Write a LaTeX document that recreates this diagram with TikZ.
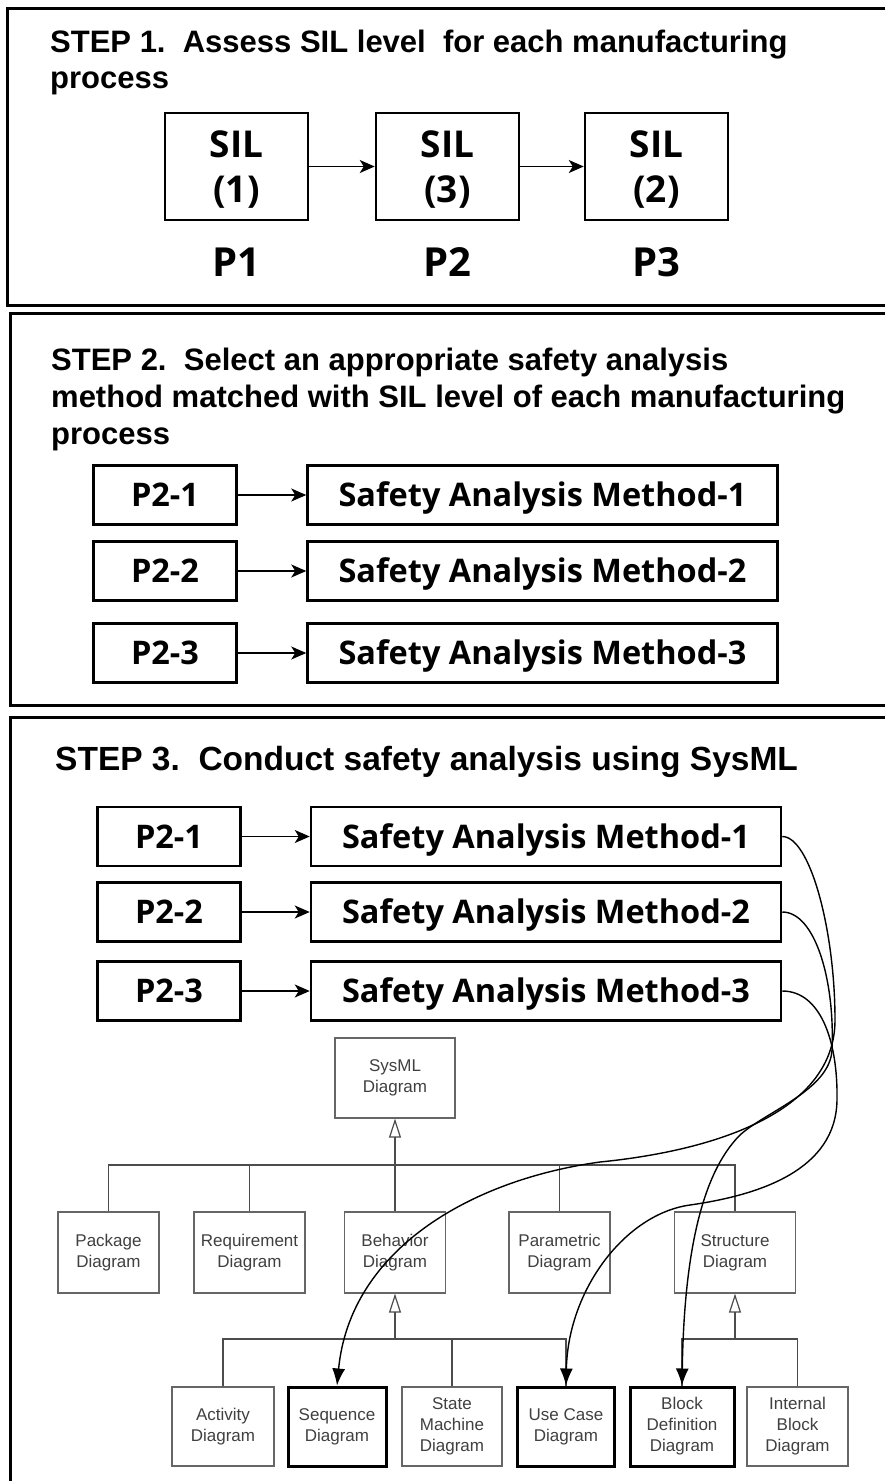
\documentclass[tikz,border=0pt]{standalone}
\usepackage{fontspec}
\setmainfont{Liberation Sans}
\newfontfamily\boxfont{Open Sans}
\usetikzlibrary{arrows.meta}
\begin{document}
\begin{tikzpicture}[x=1pt,y=-1pt,
  panel/.style={draw=black,line width=3pt},
  title/.style={anchor=base west,inner sep=0pt,font=\fontsize{31}{36}\selectfont\bfseries},
  titlebig/.style={anchor=base west,inner sep=0pt,font=\fontsize{33.5}{38}\selectfont\bfseries},
  silbox/.style={draw,line width=2.5pt,minimum width=143pt,minimum height=107pt,inner sep=0pt,align=center,text depth=0pt,font=\boxfont\bfseries\fontsize{37}{45}\selectfont},
  plabel/.style={inner sep=0pt,font=\boxfont\bfseries\fontsize{40}{46}\selectfont},
  pbox/.style={draw,line width=2.5pt,minimum width=143pt,minimum height=59pt,inner sep=0pt,text height=23pt,text depth=0pt,font=\boxfont\bfseries\fontsize{32.5}{38}\selectfont},
  mbox/.style={pbox,minimum width=470pt},
  smallarrow/.style={line width=1.4pt,-{Stealth[length=15pt,width=13pt,inset=4pt]}},
  sys/.style={draw=black!60,line width=1.2pt,inner sep=0pt,align=center,font=\fontsize{17}{21}\selectfont,text=black!75},
  sysbold/.style={sys,draw=black,line width=3pt},
  gl/.style={draw=black!70,line width=1.2pt},
  gen/.style={gl,-{Triangle[open,length=19pt,width=12pt]}},
  curve/.style={line width=1.4pt,-{Latex[length=17pt,width=13pt]}}
]
\useasboundingbox (0,0) rectangle (885,1481);
\fill[white] (0,0) rectangle (885,1481);

% ---------- STEP 1 ----------
\draw[panel] (7,8) rectangle (900,305);
\node[title] (t1a) at (50,52) {STEP 1.\ \ Assess SIL level\ \ for each manufacturing};
\node[title] (t1b) at (50,88) {process};
\node[silbox] (s1) at (236.5,166.5) {SIL\\(1)};
\node[silbox] (s2) at (447.5,166.5) {SIL\\(3)};
\node[silbox] (s3) at (656.5,166.5) {SIL\\(2)};
\draw[smallarrow] (s1) -- (s2);
\draw[smallarrow] (s2) -- (s3);
\node[plabel] (lp1) at (236.5,262) {P1};
\node[plabel] (lp2) at (447.5,262) {P2};
\node[plabel] (lp3) at (656.5,262) {P3};

% ---------- STEP 2 ----------
\draw[panel] (10,313) rectangle (900,705);
\node[title] (t2a) at (51,370) {STEP 2.\ \ Select an appropriate safety analysis};
\node[title] (t2b) at (51,407) {method matched with SIL level of each manufacturing};
\node[title] (t2c) at (51,444) {process};
\node[pbox] (p21) at (165,495) {P2-1};
\node[mbox] (m21) at (542.5,495) {Safety Analysis Method-1};
\node[pbox] (p22) at (165,571) {P2-2};
\node[mbox] (m22) at (542.5,571) {Safety Analysis Method-2};
\node[pbox] (p23) at (165,653) {P2-3};
\node[mbox] (m23) at (542.5,653) {Safety Analysis Method-3};
\draw[smallarrow] (p21) -- (m21);
\draw[smallarrow] (p22) -- (m22);
\draw[smallarrow] (p23) -- (m23);

% ---------- STEP 3 ----------
\draw[panel] (10,717) rectangle (900,1500);
\node[titlebig] (t3) at (55,770) {STEP 3.\ \ Conduct safety analysis using SysML};
\node[pbox] (q1) at (169,836.5) {P2-1};
\node[mbox] (n1) at (546,836.5) {Safety Analysis Method-1};
\node[pbox] (q2) at (169,912) {P2-2};
\node[mbox] (n2) at (546,912) {Safety Analysis Method-2};
\node[pbox] (q3) at (169,991) {P2-3};
\node[mbox] (n3) at (546,991) {Safety Analysis Method-3};
\draw[smallarrow] (q1) -- (n1);
\draw[smallarrow] (q2) -- (n2);
\draw[smallarrow] (q3) -- (n3);

% SysML taxonomy
\node[sys,minimum width=120pt,minimum height=80pt] (sysml) at (395,1078) {SysML\\Diagram};
\node[sys,minimum width=101pt,minimum height=81pt] (pkg) at (108.5,1252.5) {Package\\Diagram};
\node[sys,minimum width=111pt,minimum height=81pt] (req) at (249.5,1252.5) {Requirement\\Diagram};
\node[sys,minimum width=101pt,minimum height=81pt] (beh) at (395,1252.5) {Behavior\\Diagram};
\node[sys,minimum width=101pt,minimum height=81pt] (par) at (559.5,1252.5) {Parametric\\Diagram};
\node[sys,minimum width=121pt,minimum height=81pt] (str) at (735,1252.5) {Structure\\Diagram};

\node[sys,minimum width=102pt,minimum height=79pt] (act) at (223,1426.5) {Activity\\Diagram};
\node[sysbold,minimum width=98pt,minimum height=79pt] (seq) at (337,1426.5) {Sequence\\Diagram};
\node[sys,minimum width=100pt,minimum height=79pt] (stm) at (452,1426.5) {State\\Machine\\Diagram};
\node[sysbold,minimum width=97pt,minimum height=79pt] (uc) at (566,1426.5) {Use Case\\Diagram};
\node[sysbold,minimum width=104pt,minimum height=79pt] (bdd) at (682,1426.5) {Block\\Definition\\Diagram};
\node[sys,minimum width=101pt,minimum height=79pt] (ibd) at (797.5,1426.5) {Internal\\Block\\Diagram};

\coordinate (bus1) at (395,1165);
\coordinate (bus2) at (395,1339);
\coordinate (bus3) at (735,1339);

\draw[gl] (pkg.north) |- (bus1) -| (str.north);
\draw[gl] (req.north) -- (req.north |- bus1);
\draw[gl] (par.north) -- (par.north |- bus1);
\draw[gen] (beh.north) -- (sysml.south);

\draw[gl] (act.north) |- (bus2) -| (uc.north);
\draw[gl] (stm.north) -- (stm.north |- bus2);
\draw[gen] (bus2) -- (beh.south);

\draw[gl] (bdd.north) |- (bus3) -| (ibd.north);
\draw[gen] (bus3) -- (str.south);

% curved connectors
\draw[curve] (n1.east) .. controls (810,836.5) and (835,930) .. (835,1020)
  .. controls (835,1110) and (720,1150) .. (600,1162)
  .. controls (470,1180) and (350,1250) .. (seq.north);
\draw[curve] (n2.east) .. controls (815,912) and (835,980) .. (832,1050)
  .. controls (830,1090) and (765,1112) .. (740,1135)
  .. controls (700,1175) and (684,1260) .. (bdd.north);
\draw[curve] (n3.east) .. controls (820,991) and (838,1040) .. (837,1100)
  .. controls (836,1170) and (760,1195) .. (690,1205)
  .. controls (625,1214) and (568,1290) .. (uc.north);
\end{tikzpicture}
\end{document}
